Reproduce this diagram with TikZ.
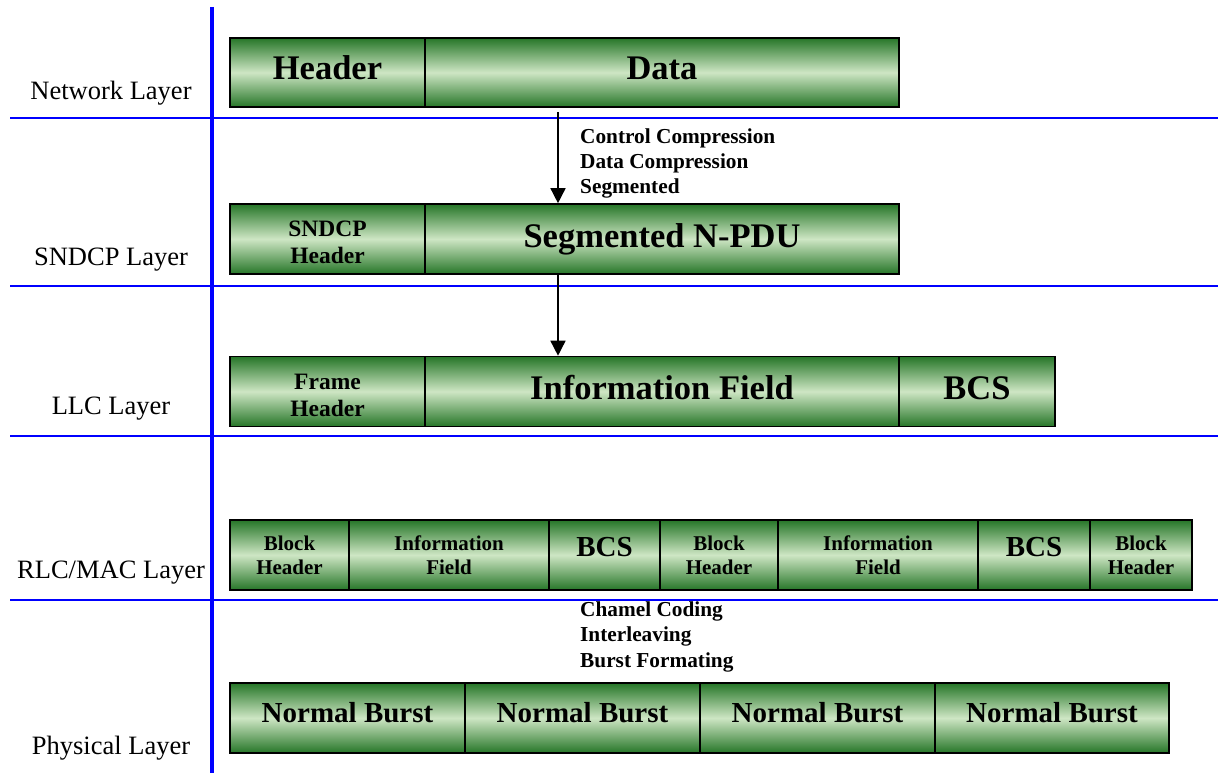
\documentclass[tikz,border=0pt]{standalone}
\usepackage{fontspec}
\setmainfont{Liberation Serif}
\usetikzlibrary{arrows.meta}
\definecolor{gdark}{RGB}{38,118,40}
\definecolor{glight}{RGB}{206,230,196}
\definecolor{laneblue}{RGB}{0,0,255}
\tikzset{
  cellbox/.style={draw=black, line width=1.6pt, top color=gdark, bottom color=gdark,
    middle color=glight, inner sep=0pt},
  bigtxt/.style={font=\fontsize{34.5}{38}\selectfont\bfseries, anchor=base, inner sep=0pt},
  midtxt/.style={font=\fontsize{29}{32}\selectfont\bfseries, anchor=base, inner sep=0pt},
  pairtxt/.style={font=\fontsize{23.5}{27}\selectfont\bfseries, align=center, inner sep=0pt},
  minitxt/.style={font=\fontsize{21}{24.3}\selectfont\bfseries, align=center, inner sep=0pt},
  notetxt/.style={font=\fontsize{21.3}{25.3}\selectfont\bfseries, align=left, anchor=north west, inner sep=0pt},
  layertxt/.style={font=\fontsize{26.5}{30}\selectfont, anchor=base, inner sep=0pt},
  lane/.style={draw=laneblue, line width=2pt},
  flow/.style={draw=black, line width=1.5pt, -{Triangle[width=15pt,length=15pt]}}
}
\begin{document}
\begin{tikzpicture}[x=1pt,y=-1pt]
\useasboundingbox (0,0) rectangle (1220,773);
\fill[white] (0,0) rectangle (1220,773);

% layer separators
\coordinate (hl1a) at (10,118);  \coordinate (hl1b) at (1218,118);
\coordinate (hl2a) at (10,286);  \coordinate (hl2b) at (1218,286);
\coordinate (hl3a) at (10,436);  \coordinate (hl3b) at (1218,436);
\coordinate (hl4a) at (10,600);  \coordinate (hl4b) at (1218,600);
\coordinate (vtop) at (212,7);   \coordinate (vbot) at (212,773);
\draw[lane] (hl1a) -- (hl1b);
\draw[lane] (hl2a) -- (hl2b);
\draw[lane] (hl3a) -- (hl3b);
\draw[lane] (hl4a) -- (hl4b);
\draw[lane, line width=3.5pt] (vtop) -- (vbot);

% layer names
\node[layertxt] (lnet)  at (111,100) {Network Layer};
\node[layertxt] (lsnd)  at (111,265) {SNDCP Layer};
\node[layertxt] (lllc)  at (111,414) {LLC Layer};
\node[layertxt] (lrlc)  at (111,578) {RLC/MAC Layer};
\node[layertxt] (lphy)  at (111,754) {Physical Layer};

% network layer packet
\node[cellbox, minimum width=195pt, minimum height=69pt] (nh) at (327.5,72.5) {};
\node[cellbox, minimum width=474pt, minimum height=69pt] (nd) at (662,72.5) {};
\node[bigtxt] (nht) at (nh |- 0,80) {Header};
\node[bigtxt] (ndt) at (nd |- 0,80) {Data};

% SNDCP layer
\node[cellbox, minimum width=195pt, minimum height=70pt] (sh) at (327.5,239) {};
\node[cellbox, minimum width=474pt, minimum height=70pt] (sd) at (662,239) {};
\node[pairtxt] (sht) at (sh |- 0,242.8) {SNDCP\\Header};
\node[bigtxt] (sdt) at (sd |- 0,247) {Segmented N-PDU};

% LLC layer
\node[cellbox, minimum width=195pt, minimum height=70pt] (lh) at (327.5,391.5) {};
\node[cellbox, minimum width=474pt, minimum height=70pt] (li) at (662,391.5) {};
\node[cellbox, minimum width=156pt, minimum height=70pt] (lb) at (977,391.5) {};
\node[pairtxt] (lht) at (lh |- 0,395) {Frame\\Header};
\node[bigtxt] (lit) at (li |- 0,399) {Information Field};
\node[bigtxt] (lbt) at (lb |- 0,399) {BCS};

% RLC/MAC blocks
\node[cellbox, minimum width=119pt, minimum height=70pt] (r1) at (289.5,555) {};
\node[cellbox, minimum width=200pt, minimum height=70pt] (r2) at (449,555) {};
\node[cellbox, minimum width=111pt, minimum height=70pt] (r3) at (604.5,555) {};
\node[cellbox, minimum width=118pt, minimum height=70pt] (r4) at (719,555) {};
\node[cellbox, minimum width=200pt, minimum height=70pt] (r5) at (878,555) {};
\node[cellbox, minimum width=112pt, minimum height=70pt] (r6) at (1034,555) {};
\node[cellbox, minimum width=102pt, minimum height=70pt] (r7) at (1141,555) {};
\node[minitxt] (r1t) at (r1 |- 0,555.5) {Block\\Header};
\node[minitxt] (r2t) at (r2 |- 0,555) {Information\\Field};
\node[midtxt]  (r3t) at (r3 |- 0,556.7) {BCS};
\node[minitxt] (r4t) at (r4 |- 0,555.5) {Block\\Header};
\node[minitxt] (r5t) at (r5 |- 0,555) {Information\\Field};
\node[midtxt]  (r6t) at (r6 |- 0,556.7) {BCS};
\node[minitxt] (r7t) at (r7 |- 0,555.5) {Block\\Header};

% physical bursts
\node[cellbox, minimum width=235pt, minimum height=70pt] (p1) at (347.5,718) {};
\node[cellbox, minimum width=235pt, minimum height=70pt] (p2) at (582.5,718) {};
\node[cellbox, minimum width=235pt, minimum height=70pt] (p3) at (817.5,718) {};
\node[cellbox, minimum width=234pt, minimum height=70pt] (p4) at (1052,718) {};
\node[midtxt] (p1t) at (p1 |- 0,722) {Normal Burst};
\node[midtxt] (p2t) at (p2 |- 0,722) {Normal Burst};
\node[midtxt] (p3t) at (p3 |- 0,722) {Normal Burst};
\node[midtxt] (p4t) at (p4 |- 0,722) {Normal Burst};

% processing steps
\coordinate (a1) at (558,112);
\draw[flow] (a1) -- (a1 |- sd.north);
\draw[flow] (a1 |- sd.south) -- (a1 |- li.north);
\node[notetxt] (n1) at (580,128.4) {Control Compression\\Data Compression\\Segmented};
\node[notetxt] (n2) at (580,601.7) {Chamel Coding\\Interleaving\\Burst Formating};
\end{tikzpicture}
\end{document}
